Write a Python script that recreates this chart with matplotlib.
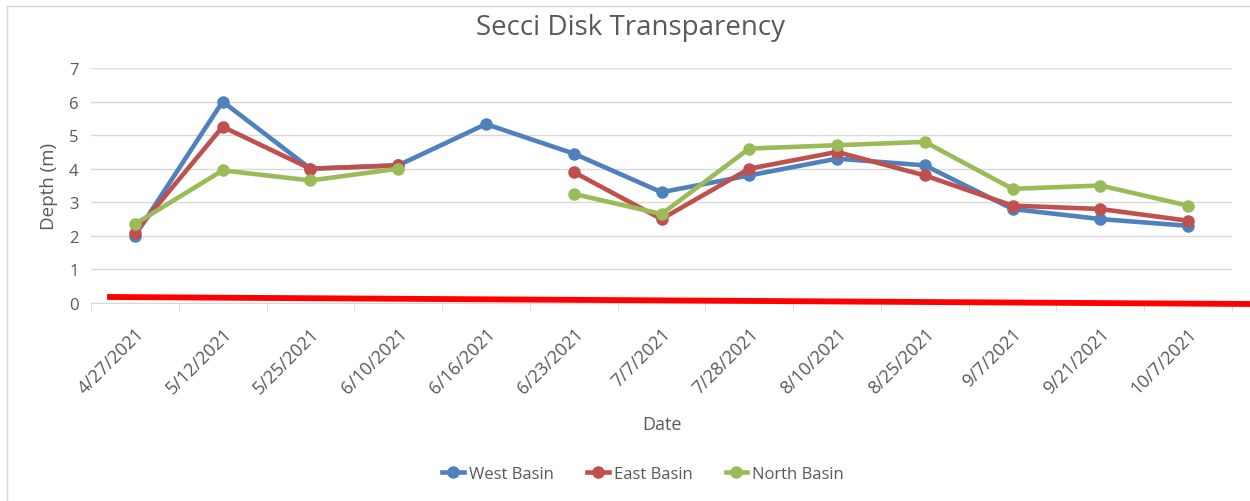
import matplotlib
matplotlib.use("Agg")
import matplotlib.pyplot as plt
import matplotlib.transforms as mtrans
from matplotlib.lines import Line2D
import numpy as np

dates = ["4/27/2021", "5/12/2021", "5/25/2021", "6/10/2021", "6/16/2021", "6/23/2021",
         "7/7/2021", "7/28/2021", "8/10/2021", "8/25/2021", "9/7/2021", "9/21/2021", "10/7/2021"]
west = [2.0, 6.0, 4.0, 4.1, 5.33, 4.45, 3.3, 3.8, 4.3, 4.1, 2.8, 2.5, 2.3]
east = [2.1, 5.25, 4.0, 4.1, np.nan, 3.9, 2.5, 4.0, 4.5, 3.8, 2.9, 2.8, 2.45]
north = [2.35, 3.95, 3.65, 4.0, np.nan, 3.25, 2.65, 4.6, 4.7, 4.8, 3.4, 3.5, 2.9]

plt.rcParams['font.family'] = ['Open Sans', 'DejaVu Sans']
txt = '#595959'

fig = plt.figure(figsize=(12.5, 5.02), dpi=100)
ax = fig.add_axes([91/1250, 1-304/502, (1232-91)/1250, (304-69)/502])

x = np.arange(len(dates))
series = [("West Basin", west, '#4F81BD'),
          ("East Basin", east, '#C0504D'),
          ("North Basin", north, '#9BBB59')]
for name, vals, col in series:
    ax.plot(x, vals, color=col, lw=3.3, marker='o', ms=8, label=name)

ax.set_xlim(-0.5, len(dates) - 0.5)
ax.set_ylim(0, 7)
ax.set_yticks(range(8))
ax.grid(axis='y', color='#d9d9d9', lw=1)
ax.set_axisbelow(True)
for s in ['top', 'right', 'left']:
    ax.spines[s].set_visible(False)
ax.spines['bottom'].set_color('#d9d9d9')

# category labels centred on points, ticks between categories
ax.set_xticks(x)
ax.set_xticklabels(dates, rotation=45, ha='right', rotation_mode='anchor')
shift = mtrans.ScaledTranslation(5/100, 0, fig.dpi_scale_trans)
for lab in ax.get_xticklabels():
    lab.set_transform(lab.get_transform() + shift)
ax.set_xticks(np.arange(-0.5, len(dates)), minor=True)
ax.tick_params(axis='x', which='major', length=0, pad=15, labelsize=13, labelcolor=txt)
ax.tick_params(axis='x', which='minor', length=6, color='#d9d9d9')
ax.tick_params(axis='y', length=0, pad=9, labelsize=12, labelcolor=txt)

ax.set_ylabel("Depth (m)", color=txt, fontsize=13.5, labelpad=8)
fig.text(662/1250, 1-425/502, "Date", ha='center', va='center', fontsize=13, color=txt)
fig.text(631/1250, 1-28/502, "Secci Disk Transparency", ha='center', va='center',
         fontsize=20, color=txt)

fig.legend(loc='center', bbox_to_anchor=(643/1250, 1-475/502), ncol=3, frameon=False,
           fontsize=12, labelcolor=txt, handlelength=1.3, columnspacing=2.0,
           handletextpad=0.3)

# chart border and the hand-drawn red line
fig.add_artist(Line2D([7/1250, 7/1250], [0, 1-7/502], color='#d9d9d9', lw=1))
fig.add_artist(Line2D([7/1250, 1], [1-7/502, 1-7/502], color='#d9d9d9', lw=1))
fig.add_artist(Line2D([110/1250, 1], [1-298/502, 1-305/502], color='#ff0000', lw=4.2))

fig.savefig("out.png", dpi=100)
